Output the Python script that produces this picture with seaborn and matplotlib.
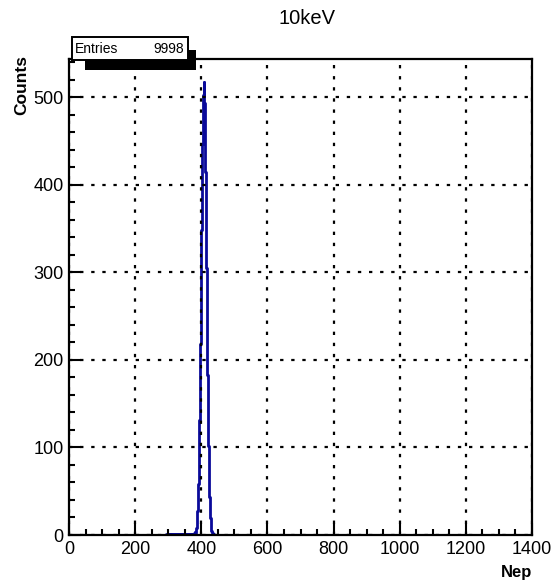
import numpy as np
import pandas as pd
import matplotlib
matplotlib.use("Agg")
import matplotlib.pyplot as plt
from matplotlib.ticker import MultipleLocator
from matplotlib.patches import Rectangle
import seaborn as sns

# Histogram of the number of photoelectrons (Nep) for 10 keV events, 1-unit bins
first_bin = 293
counts = [
    1, 0, 0, 0, 0, 0, 0, 0, 1, 0, 0, 0, 0, 0, 0, 1, 0, 0, 0, 0,   # 293-312
    0, 1, 0, 0, 0, 0, 1, 0, 0, 0, 0, 0, 1, 0, 0, 0, 0, 1, 0, 0,   # 313-332
    0, 0, 0, 1, 0, 0, 0, 0, 1, 0, 0, 0, 0, 1, 0, 0, 0, 1, 0, 0,   # 333-352
    0, 0, 1, 0, 1, 0, 0, 0, 1, 0, 0, 0, 1, 0, 0, 0, 0,            # 353-369
    1, 0, 1, 0, 1, 1, 0, 2, 1, 2,                                  # 370-379
    1, 3, 2, 5, 7, 8, 14, 17, 27, 31,                              # 380-389
    47, 58, 81, 96, 131, 150, 192, 218, 270, 297,                  # 390-399
    349, 377, 428, 447, 489, 496, 503, 518, 497, 494,              # 400-409
    471, 458, 415, 389, 336, 305, 259, 228, 183, 158,              # 410-419
    121, 102, 74, 62, 43, 36, 23, 19, 12, 10,                      # 420-429
    5, 4, 3, 2, 1, 1, 0, 1,                                        # 430-437
]
x_ticks = [0, 200, 400, 600, 800, 1000, 1200, 1400]
y_ticks = [0, 100, 200, 300, 400, 500]
title = "10keV"
x_label = "Nep"
y_label = "Counts"

entries = int(np.sum(counts))
edges = np.arange(first_bin, first_bin + len(counts) + 1)
df = pd.DataFrame({"nep": edges[:-1] + 0.5, "n": counts})

sns.set_theme(style="white")
plt.rcParams["font.family"] = ["Liberation Sans", "DejaVu Sans"]
plt.rcParams["text.color"] = "black"
plt.rcParams["axes.labelcolor"] = "black"
plt.rcParams["xtick.color"] = "black"
plt.rcParams["ytick.color"] = "black"

W, H = 552, 582
fig = plt.figure(figsize=(W / 100, H / 100), dpi=100)
ax = fig.add_axes([69 / W, 1 - 535 / H, (532 - 69) / W, (535 - 59) / H])

line_col = "#0a0a9a"
sns.histplot(data=df, x="nep", weights="n", bins=list(edges), element="step",
             fill=False, color=line_col, linewidth=2.0, ax=ax, zorder=2)

ax.set_xlim(0, 1400)
ax.set_ylim(0, 1.05 * max(counts))
ax.set_xticks(x_ticks)
ax.set_yticks(y_ticks)
ax.set_xticklabels([str(v) for v in x_ticks])
ax.set_yticklabels([str(v) for v in y_ticks])
ax.xaxis.set_minor_locator(MultipleLocator(50))
ax.yaxis.set_minor_locator(MultipleLocator(20))
ax.tick_params(axis="both", which="both", direction="in", colors="black",
               labelcolor="black", labelsize=13, top=False, right=False,
               bottom=True, left=True)
ax.tick_params(axis="x", which="major", length=8.6, width=1.5, pad=4)
ax.tick_params(axis="x", which="minor", length=4.3, width=1.5)
ax.tick_params(axis="y", which="major", length=8.6, width=1.5, pad=4)
ax.tick_params(axis="y", which="minor", length=4.3, width=1.5)

ax.grid(True, which="major", color="black", linestyle=(0, (1.5, 3.5)),
        linewidth=1.6)
ax.set_axisbelow(False)
for s in ax.spines.values():
    s.set_visible(True)
    s.set_color("black")
    s.set_linewidth(1.6)
    s.set_zorder(3)
ax.set_xlabel("")
ax.set_ylabel("")

fig.text(307 / W, 1 - 18 / H, title, ha="center", va="center",
         fontsize=14.5, color="black")
fig.text(532 / W, 1 - 572 / H, x_label, ha="right", va="center",
         fontsize=12, fontweight="bold", color="black")
fig.text(22 / W, 1 - 55 / H, y_label, ha="center", va="top", rotation=90,
         fontsize=12.5, fontweight="bold", color="black")

# Statistics box with its drop shadow
def px_rect(x0, y0, x1, y1, **kw):
    return Rectangle((x0 / W, 1 - y1 / H), (x1 - x0) / W, (y1 - y0) / H,
                     transform=fig.transFigure, **kw)

fig.patches.append(px_rect(85, 50, 196, 70, facecolor="black",
                           edgecolor="none", zorder=10))
fig.patches.append(px_rect(72, 37, 188, 60, facecolor="white",
                           edgecolor="black", linewidth=1.4, zorder=11))
fig.text(75 / W, 1 - 49 / H, "Entries", ha="left", va="center",
         fontsize=10, color="black", zorder=12)
fig.text(184 / W, 1 - 49 / H, f"{entries}", ha="right", va="center",
         fontsize=10, color="black", zorder=12)

fig.savefig("out.png", dpi=100, facecolor="white")
